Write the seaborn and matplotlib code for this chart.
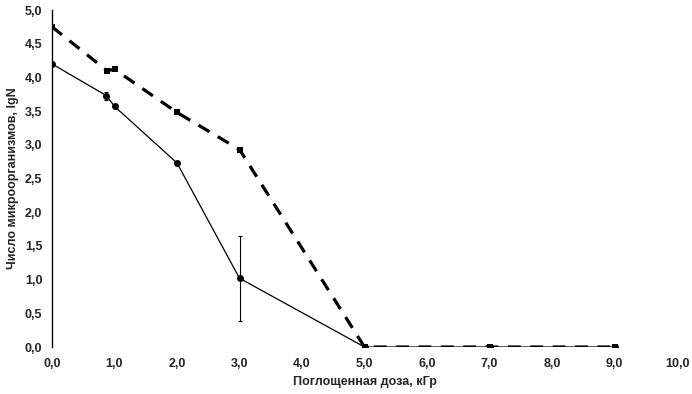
import numpy as np
import pandas as pd
import seaborn as sns
import matplotlib.pyplot as plt

# Данные (оценены по рисунку)
dose_a = [0.0, 0.87, 1.0, 2.0, 3.0, 5.0, 7.0, 9.0]
lgN_a = [4.20, 3.73, 3.57, 2.73, 1.02, 0.0, 0.0, 0.0]
err_a = [0.0, 0.06, 0.0, 0.0, 0.63, 0.0, 0.0, 0.0]

dose_b = [0.0, 0.88, 1.0, 2.0, 3.0, 5.0, 7.0, 9.0]
lgN_b = [4.75, 4.10, 4.12, 3.48, 2.93, 0.0, 0.0, 0.0]

x_ticks = [0, 1, 2, 3, 4, 5, 6, 7, 8, 9, 10]
y_ticks = [0, 0.5, 1.0, 1.5, 2.0, 2.5, 3.0, 3.5, 4.0, 4.5, 5.0]

df_a = pd.DataFrame({'dose': dose_a, 'lgN': lgN_a})
df_b = pd.DataFrame({'dose': dose_b, 'lgN': lgN_b})

sns.set_style("white")
plt.rcParams['font.family'] = ['Liberation Sans', 'DejaVu Sans']
plt.rcParams['font.weight'] = 'bold'

fig = plt.figure(figsize=(6.92, 3.94), dpi=100)
ax = fig.add_axes([52 / 692, 1 - 347 / 394, 625 / 692, 337 / 394])

# пунктирная линия с квадратами
sns.lineplot(data=df_b, x='dose', y='lgN', ax=ax, color='black', linewidth=2.3,
             marker='s', markersize=5, markeredgewidth=0, sort=False)
ax.lines[-1].set_dashes((4, 3))

# сплошная линия с кругами
sns.lineplot(data=df_a, x='dose', y='lgN', ax=ax, color='black', linewidth=0.9,
             marker='o', markersize=5, markeredgewidth=0, sort=False)
ax.errorbar(dose_a, lgN_a, yerr=err_a, fmt='none', ecolor='black', elinewidth=0.8,
            capsize=1.5, capthick=0.8)

ax.set_xlim(0, 10)
ax.set_ylim(0, 5)
ax.set_xticks(x_ticks)
ax.set_xticklabels([f"{v:.1f}".replace('.', ',') for v in x_ticks])
ax.set_yticks(y_ticks)
ax.set_yticklabels([f"{v:.1f}".replace('.', ',') for v in y_ticks])
ax.tick_params(axis='both', length=0, labelsize=9)
ax.tick_params(axis='x', pad=8)
ax.tick_params(axis='y', pad=7)

for s in ['top', 'right', 'bottom']:
    ax.spines[s].set_visible(False)
ax.spines['left'].set_color('black')
ax.spines['left'].set_linewidth(1.0)

ax.set_xlabel("Поглощенная доза, кГр", fontsize=9, fontweight='bold', labelpad=4)
ax.set_ylabel("Число микроорганизмов, lgN", fontsize=9, fontweight='bold', labelpad=4)
ax.grid(False)

plt.savefig("out.png", dpi=100)
